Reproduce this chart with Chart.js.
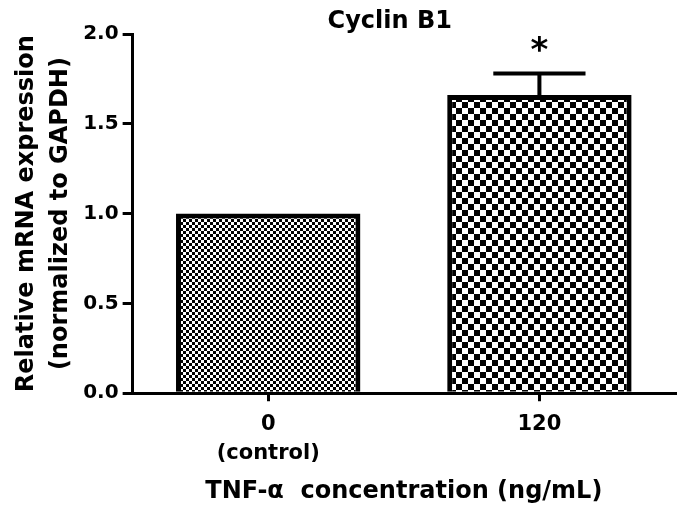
<!DOCTYPE html>
<html>
<head>
<meta charset="utf-8">
<script src="https://cdn.jsdelivr.net/npm/chart.js@4"></script>
<style>
  html, body { margin: 0; padding: 0; background: #fff; }
  #wrap { width: 680px; height: 517px; }
</style>
</head>
<body>
<div id="wrap"><canvas id="grafico"></canvas></div>
<script>
const categorias = [["0", "(control)"], "120"];
const valores = [1.0, 1.66];
const errores = [0, 0.12];
const signif = ["", "*"];
const ticksY = [0, 0.5, 1.0, 1.5, 2.0];

const fuente = "'DejaVu Sans', 'Liberation Sans', Arial, sans-serif";

// patron de cuadros para cada barra
function cuadros(celda) {
  const c = document.createElement("canvas");
  c.width = celda * 2;
  c.height = celda * 2;
  const g = c.getContext("2d");
  g.fillStyle = "#fff";
  g.fillRect(0, 0, c.width, c.height);
  g.fillStyle = "#000";
  g.fillRect(0, 0, celda, celda);
  g.fillRect(celda, celda, celda, celda);
  return g.createPattern(c, "repeat");
}

const errorBars = {
  id: "errorBars",
  afterDatasetsDraw(chart) {
    const ctx = chart.ctx;
    const y = chart.scales.y;
    const meta = chart.getDatasetMeta(0);
    ctx.save();
    ctx.strokeStyle = "#000";
    ctx.fillStyle = "#000";
    ctx.lineWidth = 4;
    meta.data.forEach((bar, i) => {
      const top = y.getPixelForValue(valores[i] + errores[i]);
      if (errores[i] > 0) {
        const half = bar.width / 4;
        ctx.beginPath();
        ctx.moveTo(bar.x, bar.y);
        ctx.lineTo(bar.x, top);
        ctx.moveTo(bar.x - half, top);
        ctx.lineTo(bar.x + half, top);
        ctx.stroke();
      }
      if (signif[i]) {
        ctx.font = "bold 34px " + fuente;
        ctx.textAlign = "center";
        ctx.textBaseline = "middle";
        ctx.fillText(signif[i], bar.x, top - 21);
      }
    });
    // titulo
    const area = chart.chartArea;
    ctx.font = "bold 24px " + fuente;
    ctx.textAlign = "center";
    ctx.textBaseline = "middle";
    ctx.fillText("Cyclin B1", area.left + area.width * 0.474, 22);
    ctx.restore();
  }
};

new Chart(document.getElementById("grafico"), {
  type: "bar",
  data: {
    labels: categorias,
    datasets: [{
      data: valores,
      backgroundColor: [cuadros(3), cuadros(6)],
      borderColor: "#000",
      borderWidth: 5,
      barPercentage: 0.68,
      categoryPercentage: 1
    }]
  },
  options: {
    responsive: true,
    maintainAspectRatio: false,
    animation: false,
    layout: { padding: { top: 34, right: 5, left: 10, bottom: 11 } },
    plugins: { legend: { display: false }, tooltip: { enabled: false } },
    scales: {
      x: {
        grid: { drawOnChartArea: false, offset: false, tickLength: 8, color: "#000", lineWidth: 3 },
        border: { color: "#000", width: 3 },
        ticks: { color: "#000", font: { family: fuente, size: 21, weight: "bold", lineHeight: 1.38 }, padding: 9 },
        title: {
          display: true,
          text: "TNF-\u03b1  concentration (ng/mL)",
          color: "#000",
          font: { family: fuente, size: 24, weight: "bold" },
          padding: { top: 0, bottom: 0 }
        }
      },
      y: {
        min: 0,
        max: 2,
        afterBuildTicks: (s) => { s.ticks = ticksY.map(v => ({ value: v })); },
        grid: { drawOnChartArea: false, tickLength: 10, color: "#000", lineWidth: 3 },
        border: { color: "#000", width: 3 },
        ticks: {
          color: "#000",
          font: { family: fuente, size: 20, weight: "bold" },
          padding: 4,
          callback: (v) => Number(v).toFixed(1)
        },
        title: {
          display: true,
          text: ["Relative mRNA expression", "(normalized to GAPDH)"],
          color: "#000",
          font: { family: fuente, size: 24, weight: "bold", lineHeight: 1.4 },
          padding: { top: 0, bottom: 2 }
        }
      }
    }
  },
  plugins: [errorBars]
});
</script>
</body>
</html>
